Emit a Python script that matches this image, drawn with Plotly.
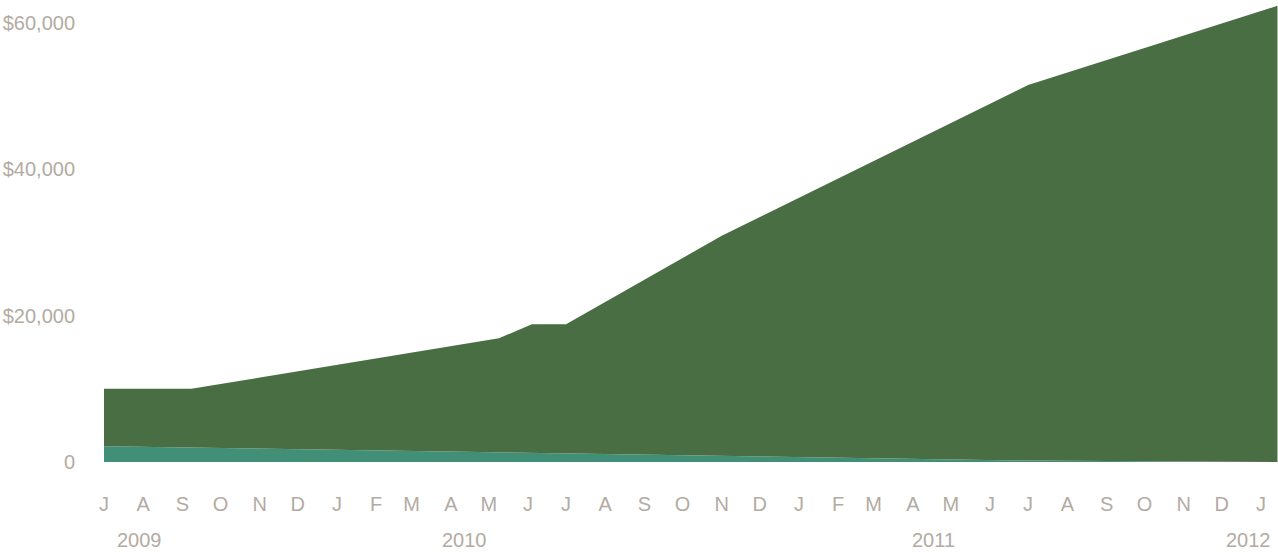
import plotly.graph_objects as go

# Observation dates for the two stacked series
dates = ["2009-07-01", "2009-09-08", "2010-05-09", "2010-06-04",
         "2010-07-01", "2010-11-01", "2011-07-01", "2012-01-14"]

# Lower (teal) band and cumulative total, in dollars
lower_values = [2150, 1970, 1320, 1250, 1180, 850, 200, 0]
total_values = [10000, 10000, 16900, 18800, 18800, 30900, 51500, 62300]
upper_values = [t - b for t, b in zip(total_values, lower_values)]

# Month ticks (first of each month) and their one-letter labels
month_ticks = ["2009-07-01", "2009-08-01", "2009-09-01", "2009-10-01", "2009-11-01",
               "2009-12-01", "2010-01-01", "2010-02-01", "2010-03-01", "2010-04-01",
               "2010-05-01", "2010-06-01", "2010-07-01", "2010-08-01", "2010-09-01",
               "2010-10-01", "2010-11-01", "2010-12-01", "2011-01-01", "2011-02-01",
               "2011-03-01", "2011-04-01", "2011-05-01", "2011-06-01", "2011-07-01",
               "2011-08-01", "2011-09-01", "2011-10-01", "2011-11-01", "2011-12-01",
               "2012-01-01"]
month_letters = ["J", "A", "S", "O", "N", "D", "J", "F", "M", "A", "M", "J", "J",
                 "A", "S", "O", "N", "D", "J", "F", "M", "A", "M", "J", "J",
                 "A", "S", "O", "N", "D", "J"]

# Year captions under the month row
year_labels = ["2009", "2010", "2011", "2012"]
year_positions = ["2009-07-29", "2010-04-12", "2011-04-17", "2011-12-22"]

# Dollar axis ticks
y_ticks = [0, 20000, 40000, 60000]
y_tick_text = ["0", "$20,000", "$40,000", "$60,000"]

TEXT = "#b3aba3"
FONT = "Liberation Sans Narrow, Arial Narrow, sans-serif"

fig = go.Figure()
fig.add_trace(go.Scatter(
    x=dates, y=lower_values, stackgroup="s", mode="lines",
    line=dict(width=0, color="#428f77"), fillcolor="#428f77",
    hoverinfo="x+y"))
fig.add_trace(go.Scatter(
    x=dates, y=upper_values, stackgroup="s", mode="lines",
    line=dict(width=0, color="#4a6e43"), fillcolor="#4a6e43",
    hoverinfo="x+y"))

for label, pos in zip(year_labels, year_positions):
    fig.add_annotation(x=pos, xref="x", y=-0.168, yref="paper",
                       text=label, showarrow=False, yanchor="middle",
                       font=dict(family=FONT, size=20, color=TEXT))

fig.update_layout(
    width=1278, height=552,
    margin=dict(l=104, r=0, t=0, b=90),
    paper_bgcolor="white", plot_bgcolor="white",
    showlegend=False,
    font=dict(family=FONT, size=20, color=TEXT),
    xaxis=dict(
        type="date",
        range=["2009-07-01", "2012-01-14 10:00"],
        tickmode="array", tickvals=month_ticks, ticktext=month_letters,
        showgrid=False, zeroline=False, showline=False,
        ticks="", ticklabelstandoff=28,
        tickfont=dict(family=FONT, size=20, color=TEXT),
    ),
    yaxis=dict(
        range=[0, 63100],
        tickmode="array", tickvals=y_ticks, ticktext=y_tick_text,
        showgrid=False, zeroline=False, showline=False,
        ticks="", ticklabelstandoff=28,
        tickfont=dict(family=FONT, size=20, color=TEXT),
    ),
)

fig.write_html("out.html")
